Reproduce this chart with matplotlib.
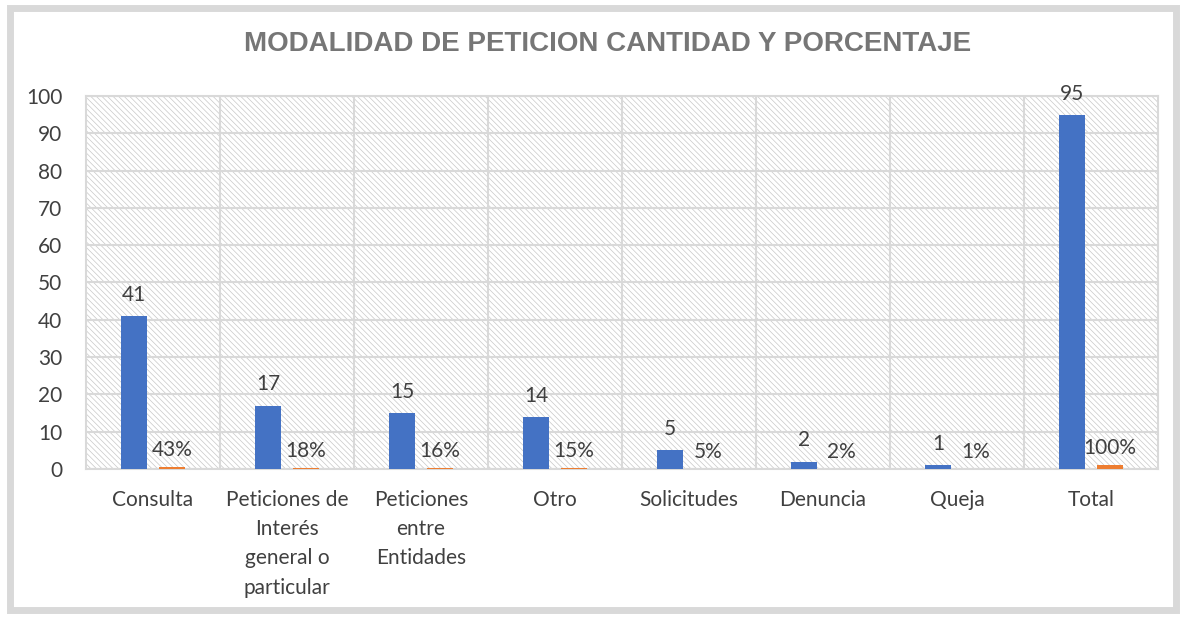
import matplotlib.pyplot as plt
import numpy as np
from matplotlib.patches import Rectangle

# data
categorias = ['Consulta', 'Peticiones de\nInterés\ngeneral o\nparticular',
              'Peticiones\nentre\nEntidades', 'Otro', 'Solicitudes',
              'Denuncia', 'Queja', 'Total']
cantidad = [41, 17, 15, 14, 5, 2, 1, 95]
porcentaje = [0.43, 0.18, 0.16, 0.15, 0.05, 0.02, 0.01, 1.00]
etiquetas_pct = ['43%', '18%', '16%', '15%', '5%', '2%', '1%', '100%']

plt.rcParams['font.family'] = ['Lato', 'DejaVu Sans']
plt.rcParams['hatch.linewidth'] = 0.5
texto = '#404040'
gris = '#d9d9d9'

fig = plt.figure(figsize=(11.86, 6.17), dpi=100)
ax = fig.add_axes([0.0725, 0.2399, 0.9039, 0.6045])

# outer chart frame
fig.patches.append(Rectangle((0.0084, 0.0113), 0.9832, 0.9755, transform=fig.transFigure,
                             fill=False, edgecolor=gris, linewidth=5, zorder=0))

x = np.arange(len(categorias))
w = 0.195
ax.bar(x - 0.14, cantidad, w, color='#4472c4', zorder=3)
ax.bar(x + 0.14, porcentaje, w, color='#ed7d31', zorder=3)

for xi, v in zip(x, cantidad):
    ax.annotate(str(v), (xi - 0.14, v), xytext=(0, 8), textcoords='offset points',
                ha='center', va='bottom', fontsize=15, color=texto)
for xi, v, t in zip(x, porcentaje, etiquetas_pct):
    ax.annotate(t, (xi + 0.14, v), xytext=(0, 5), textcoords='offset points',
                ha='center', va='bottom', fontsize=15, color=texto)

ax.set_xlim(-0.5, len(categorias) - 0.5)
ax.set_ylim(0, 100)
ax.set_yticks(range(0, 101, 10))

# hatched plot-area background
ax.add_patch(Rectangle((0, 0), 1, 1, transform=ax.transAxes, facecolor='white',
                       edgecolor='#c8c8c8', hatch='\\' * 6, linewidth=0, zorder=0))

ax.yaxis.grid(True, color=gris, linewidth=1.5, zorder=1)
for b in np.arange(0.5, len(categorias) - 1, 1):
    ax.axvline(b, color=gris, linewidth=1.5, zorder=1)
for s in ax.spines.values():
    s.set_color(gris)
    s.set_linewidth(1.5)

ax.set_xticks(x)
ax.set_xticklabels(categorias, fontsize=15, color=texto, linespacing=1.58, va='top')
ax.tick_params(axis='y', labelsize=15, labelcolor=texto, length=0, pad=17)
ax.tick_params(axis='x', length=0, pad=15)

fig.text(0.5126, 0.928, 'MODALIDAD DE PETICION CANTIDAD Y PORCENTAJE', ha='center', va='center',
         fontsize=20, fontweight='bold', color='#767676', family='Liberation Sans')

fig.savefig('out.png', dpi=100)
